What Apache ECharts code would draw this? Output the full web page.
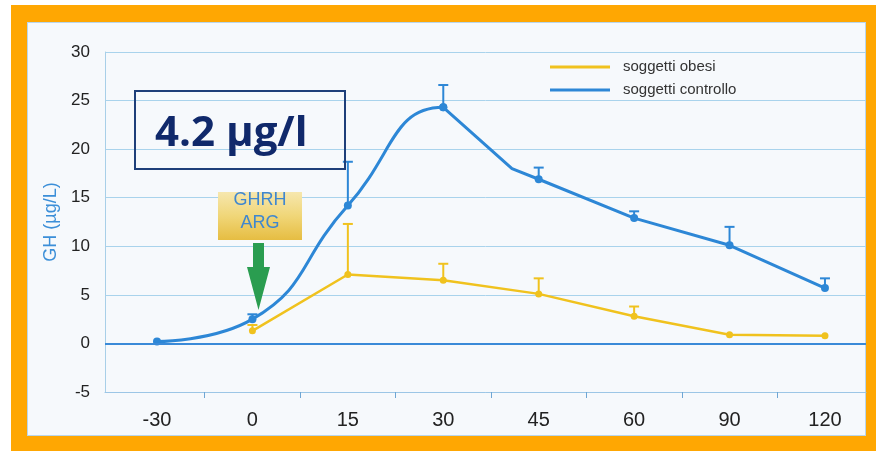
<!DOCTYPE html>
<html><head><meta charset="utf-8">
<script src="https://cdn.jsdelivr.net/npm/echarts@6/dist/echarts.min.js"></script>
<style>
html,body{margin:0;padding:0;background:#fff;}
#frame{position:absolute;left:11px;top:5px;width:865px;height:446px;background:#ffa702;}
#panel{position:absolute;left:27px;top:22px;width:839px;height:414px;background:#f6f9fc;box-shadow:inset 0 0 0 1px #b9d6ec;}
#chart{position:absolute;left:0;top:0;width:876px;height:451px;}
</style></head><body>
<div id="frame"></div><div id="panel"></div><div id="chart"></div>
<script>
// categories (minutes)
const categories = ['-30', '0', '15', '30', '45', '60', '90', '120'];
// GH values (µg/L)
const controllo    = [0.2, 2.5, 14.2, 24.3, 16.9, 12.9, 10.1, 5.7];
const controlloErr = [null, 0.5, 4.5, 2.3, 1.2, 0.7, 1.9, 1.0];
const obesi        = [null, 1.3, 7.1, 6.5, 5.1, 2.8, 0.9, 0.8];
const obesiErr     = [null, 0.6, 5.2, 1.7, 1.6, 1.0, null, null];
// vertex of the drawn control curve between 30 and 45 min (category position, value)
const controlloBend = [3.72, 18.0];
const yTicks = [-5, 0, 5, 10, 15, 20, 25, 30];

const BLUE = '#2d87d6', YELLOW = '#f0c21e';
const FONT = "'Liberation Sans', Arial, sans-serif";

const idx = categories.map((c, i) => i);
// smooth rising part of the control curve (-30 .. 30); the 45 point only shapes the peak
const smoothEnd = 3, smoothShape = 4;
const smoothPart = idx.slice(0, smoothShape + 1).map(i =>
  i <= smoothEnd ? [i, controllo[i]] : {value: [i, controllo[i]], symbol: 'none'});
const straightPart = [[3, controllo[3]], {value: controlloBend, symbol: 'none'}]
  .concat(idx.slice(4).map(i => [i, controllo[i]]));
const obesiData = idx.filter(i => obesi[i] != null).map(i => [i, obesi[i]]);
const errData = (vals, errs) => idx.filter(i => errs[i] != null).map(i => [i, vals[i], vals[i] + errs[i]]);
const cut = smoothEnd / smoothShape;

function errRender(color) {
  return function (params, api) {
    const p0 = api.coord([api.value(0), api.value(1)]);
    const p1 = api.coord([api.value(0), api.value(2)]);
    const st = {stroke: color, lineWidth: 2};
    return {type: 'group', children: [
      {type: 'line', shape: {x1: p0[0], y1: p0[1], x2: p1[0], y2: p1[1]}, style: st},
      {type: 'line', shape: {x1: p1[0] - 5, y1: p1[1], x2: p1[0] + 5, y2: p1[1]}, style: st}
    ]};
  };
}

const chart = echarts.init(document.getElementById('chart'), null, {renderer: 'canvas'});
chart.setOption({
  animation: false,
  backgroundColor: 'transparent',
  grid: {left: 105, right: 10, top: 52, bottom: 59},
  legend: {
    orient: 'vertical', left: 545, top: 54, itemGap: 7,
    itemWidth: 60, itemHeight: 3, icon: 'rect',
    data: [{name: 'soggetti obesi', itemStyle: {color: YELLOW}}, {name: 'soggetti controllo', itemStyle: {color: BLUE}}],
    textStyle: {fontSize: 15, color: '#333', fontFamily: FONT, lineHeight: 16, padding: [0, 0, 0, 8]}
  },
  xAxis: {
    type: 'value', min: -0.545, max: 7.43,
    axisLine: {onZero: false, lineStyle: {color: '#9cc6e6', width: 1}},
    axisTick: {show: true, length: 6, customValues: [0.5, 1.5, 2.5, 3.5, 4.5, 5.5, 6.5], lineStyle: {color: '#6fa6d4', width: 1}},
    axisLabel: {customValues: idx, formatter: v => categories[Math.round(v)], fontSize: 20, color: '#222', fontFamily: FONT, margin: 18},
    splitLine: {show: false}
  },
  yAxis: {
    type: 'value', min: yTicks[0], max: yTicks[yTicks.length - 1], interval: 5,
    name: 'GH (µg/L)', nameLocation: 'middle', nameGap: 44,
    nameTextStyle: {fontSize: 18, color: '#3c8fd8', fontFamily: FONT},
    axisLine: {show: true, onZero: false, lineStyle: {color: '#a8cfe8', width: 1}},
    axisTick: {show: false},
    axisLabel: {fontSize: 17, color: '#222', fontFamily: FONT, margin: 15},
    splitLine: {lineStyle: {color: '#a9d3ec', width: 1}}
  },
  series: [
    {
      name: 'soggetti obesi', type: 'line', data: obesiData, z: 3,
      symbol: 'circle', symbolSize: 7, color: YELLOW,
      lineStyle: {color: YELLOW, width: 2.5},
      markLine: {silent: true, symbol: 'none', label: {show: false},
        lineStyle: {color: '#3a8ad8', width: 2, type: 'solid'}, data: [{yAxis: 0}]}
    },
    {
      name: 'soggetti controllo', type: 'line', data: straightPart, z: 4,
      symbol: 'circle', symbolSize: 8, color: BLUE, lineStyle: {color: BLUE, width: 3}
    },
    {
      name: 'soggetti controllo', type: 'line', data: smoothPart, smooth: 0.5, z: 4,
      symbol: 'circle', symbolSize: 8, color: BLUE,
      lineStyle: {width: 3, color: new echarts.graphic.LinearGradient(0, 0, 1, 0, [
        {offset: 0, color: BLUE}, {offset: cut, color: BLUE},
        {offset: cut, color: 'rgba(45,135,214,0)'}, {offset: 1, color: 'rgba(45,135,214,0)'}])}
    },
    {type: 'custom', data: errData(obesi, obesiErr), renderItem: errRender(YELLOW), encode: {x: 0, y: [1, 2]}, z: 3, silent: true},
    {type: 'custom', data: errData(controllo, controlloErr), renderItem: errRender(BLUE), encode: {x: 0, y: [1, 2]}, z: 4, silent: true}
  ],
  graphic: [
    {type: 'rect', z: 100, shape: {x: 135, y: 91, width: 210, height: 78},
      style: {fill: 'transparent', stroke: '#1e3f7a', lineWidth: 2}},
    {type: 'text', z: 101, x: 155, y: 134,
      style: {text: '4.2 µg/l', font: "bold 42px 'Open Sans', 'Liberation Sans', sans-serif", fill: '#10296b', verticalAlign: 'middle', align: 'left'}},
    {type: 'rect', z: 100, shape: {x: 218, y: 192, width: 84, height: 48},
      style: {fill: new echarts.graphic.LinearGradient(0, 0, 0, 1, [
        {offset: 0, color: '#f6e7ae'}, {offset: 0.5, color: '#f0d678'}, {offset: 1, color: '#e6bd42'}])}},
    {type: 'text', z: 101, x: 260, y: 200,
      style: {text: 'GHRH', font: "18px 'Liberation Sans', Arial, sans-serif", fill: '#3f87cf', align: 'center', verticalAlign: 'middle'}},
    {type: 'text', z: 101, x: 260, y: 223,
      style: {text: 'ARG', font: "18px 'Liberation Sans', Arial, sans-serif", fill: '#3f87cf', align: 'center', verticalAlign: 'middle'}},
    {type: 'polygon', z: 100,
      shape: {points: [[253, 243], [264, 243], [264, 267], [270, 267], [258.5, 310], [247, 267], [253, 267]]},
      style: {fill: '#2a9d50'}}
  ]
});
</script></body></html>
